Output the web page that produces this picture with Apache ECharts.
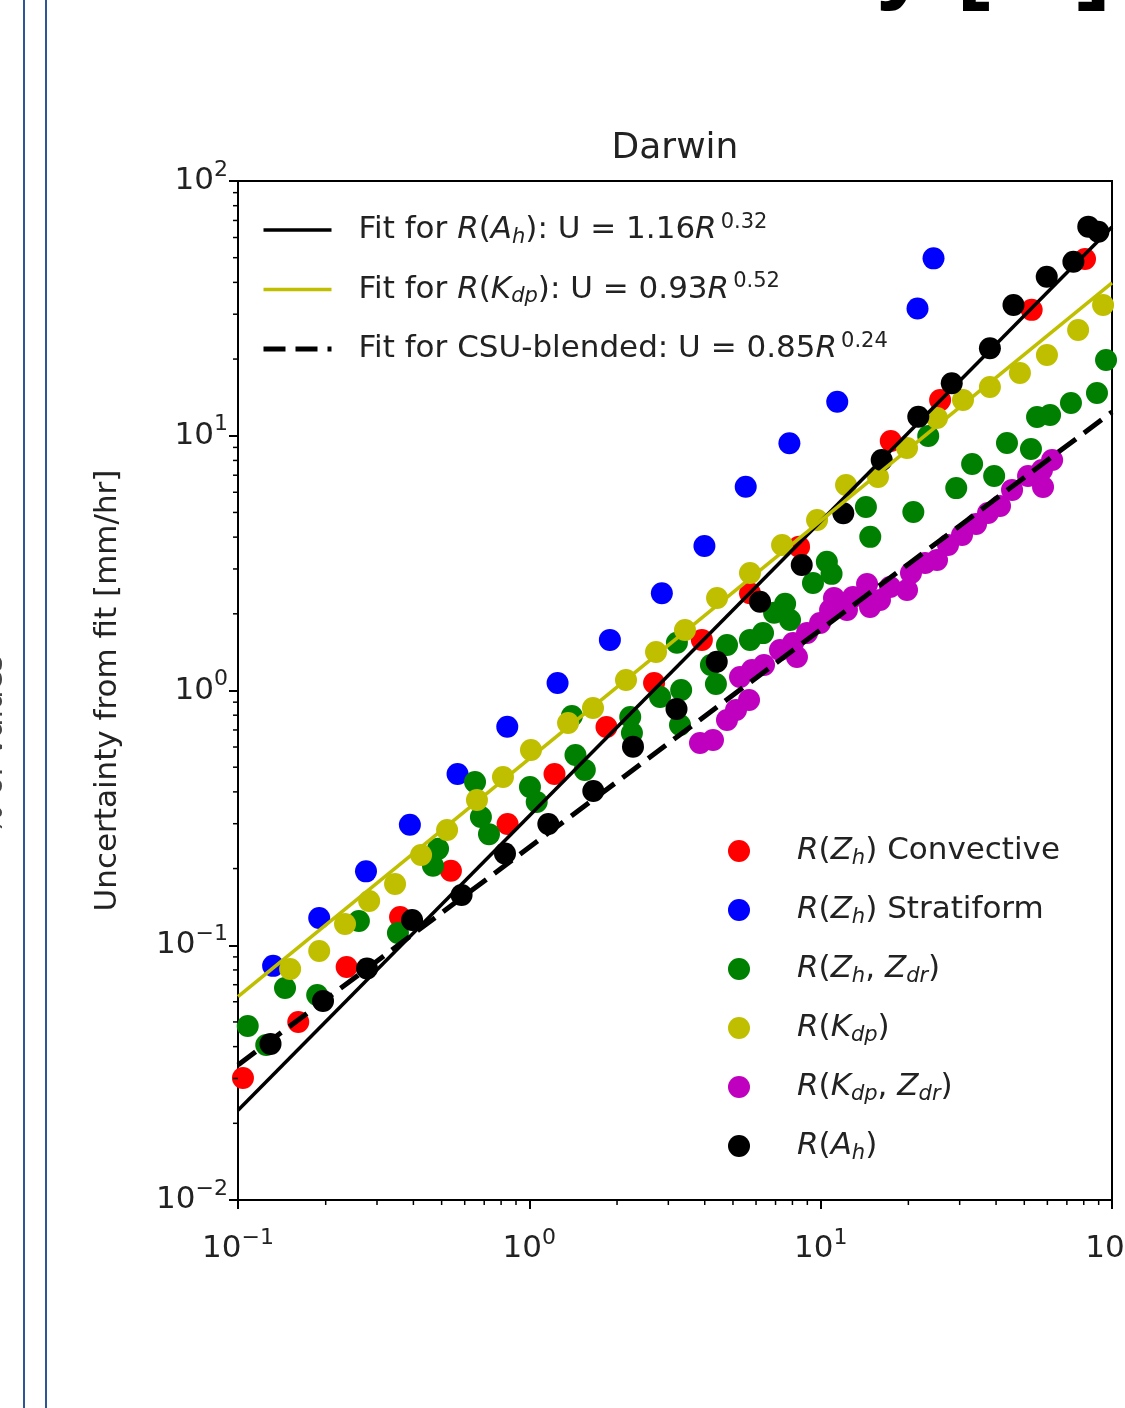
<!DOCTYPE html>
<html>
<head>
<meta charset="utf-8">
<script src="https://cdn.jsdelivr.net/npm/echarts@6/dist/echarts.min.js"></script>
<style>html,body{margin:0;padding:0;background:#fff}#c{width:1125px;height:1408px}</style>
</head>
<body>
<div id="c"></div>
<script>
// ---------------- data ----------------
const convectiveX = [0.104,0.161,0.236,0.360,0.538,0.842,1.22,1.84,2.68,3.91,5.72,8.43,17.4,25.7,53.0,80.8];
const convectiveY = [0.0301,0.0500,0.0822,0.129,0.196,0.299,0.470,0.719,1.07,1.58,2.41,3.67,9.54,13.8,31.2,49.4];

const stratiformX = [0.132,0.190,0.275,0.389,0.567,0.840,1.25,1.89,2.85,3.99,5.53,7.81,11.4,21.5,24.4];
const stratiformY = [0.083,0.128,0.195,0.297,0.470,0.721,1.07,1.58,2.41,3.69,6.31,9.34,13.6,31.6,49.7];

const zhzdrX = [0.108,0.125,0.145,0.187,0.260,0.354,0.467,0.486,0.651,0.682,0.727,1.005,1.06,1.40,1.44,1.55,2.22,2.25,2.81,3.21,3.32,3.29,4.20,4.37,4.77,5.72,6.34,6.92,7.55,7.85,9.41,10.5,10.9,14.3,14.8,20.8,23.4,29.2,33.1,39.4,43.6,52.7,55.3,61.3,72.3,88.8,95.4];
const zhzdrY = [0.0482,0.0406,0.0680,0.0638,0.1245,0.1117,0.205,0.239,0.437,0.319,0.273,0.418,0.365,0.794,0.558,0.488,0.787,0.681,0.943,1.54,1.005,0.732,1.26,1.06,1.51,1.58,1.68,2.02,2.19,1.89,2.64,3.20,2.87,5.25,4.01,5.02,9.98,6.23,7.75,6.95,9.37,8.87,11.85,12.06,13.45,14.72,19.84];

const kdpX = [0.151,0.190,0.233,0.282,0.346,0.425,0.522,0.661,0.812,1.013,1.358,1.654,2.147,2.722,3.422,4.409,5.72,7.37,9.72,12.22,15.73,19.79,25.08,30.8,38.1,48.3,59.8,76.5,93.2];
const kdpY = [0.0807,0.0949,0.1212,0.1492,0.1739,0.2261,0.2834,0.3716,0.4576,0.5842,0.7454,0.8538,1.099,1.416,1.728,2.307,2.892,3.726,4.67,6.41,6.89,8.95,11.74,13.81,15.54,17.63,20.75,26.0,32.6];

const kdpzdrX = [3.853,4.270,4.769,5.122,5.677,5.287,5.812,6.39,7.25,8.04,8.29,8.98,9.95,10.77,11.11,12.31,12.91,14.43,14.77,15.98,17.31,19.79,20.42,22.82,25.08,27.36,30.56,34.15,37.54,41.27,45.39,51.5,57.5,62.3,57.98];
const kdpzdrY = [0.6222,0.6394,0.7662,0.8385,0.9178,1.130,1.204,1.259,1.442,1.536,1.353,1.682,1.841,2.070,2.307,2.070,2.328,2.618,2.127,2.266,2.548,2.480,2.892,3.166,3.253,3.726,4.077,4.503,4.975,5.30,6.13,6.95,7.34,8.03,6.29];

const ahX = [0.1293,0.1958,0.2772,0.3958,0.5853,0.8250,1.162,1.658,2.269,3.200,4.398,6.19,8.61,11.96,16.20,21.63,28.18,38.1,45.9,59.7,73.7,82.9,89.8];
const ahY = [0.0410,0.0604,0.0811,0.1257,0.1575,0.2292,0.2992,0.4032,0.6020,0.8462,1.297,2.231,3.109,4.96,8.03,11.88,16.06,22.04,32.6,42.1,48.2,66.2,63.2];

// fitted lines (end points read at the plot edges)
const fitAhX = [0.1, 100];   const fitAhY = [0.0225, 66];
const fitKdpX = [0.1, 100];  const fitKdpY = [0.0628, 39.8];
const fitCsuX = [0.1, 100];  const fitCsuY = [0.0339, 12.4];

// axis ticks
const minorX = [0.2,0.3,0.4,0.5,0.6,0.7,0.8,0.9,2,3,4,5,6,7,8,9,20,30,40,50,60,70,80,90];
const minorY = [0.02,0.03,0.04,0.05,0.06,0.07,0.08,0.09,0.2,0.3,0.4,0.5,0.6,0.7,0.8,0.9,2,3,4,5,6,7,8,9,20,30,40,50,60,70,80,90];

const scatterNames = ['R(Zh) Convective','R(Zh) Stratiform','R(Zh, Zdr)','R(Kdp)','R(Kdp, Zdr)','R(Ah)'];
const fitNames = ['Fit for R(Ah): U = 1.16R^0.32','Fit for R(Kdp): U = 0.93R^0.52','Fit for CSU-blended: U = 0.85R^0.24'];
const titleText = 'Darwin';
const yName = 'Uncertainty from fit [mm/hr]';

// ---------------- rendering ----------------
const FONT = 'DejaVu Sans';
const TXT = '#222';
const zip = (xs, ys) => xs.map((x, i) => [x, ys[i]]);

const richLabel = {
  [fitNames[0]]: 'Fit for {i|R}({i|A}{sub|h}): U = 1.16{i|R}{sup|0.32}',
  [fitNames[1]]: 'Fit for {i|R}({i|K}{sub|dp}): U = 0.93{i|R}{sup|0.52}',
  [fitNames[2]]: 'Fit for CSU-blended: U = 0.85{i|R}{sup|0.24}',
  [scatterNames[0]]: '{i|R}({i|Z}{sub|h}) Convective',
  [scatterNames[1]]: '{i|R}({i|Z}{sub|h}) Stratiform',
  [scatterNames[2]]: '{i|R}({i|Z}{sub|h}, {i|Z}{sub|dr})',
  [scatterNames[3]]: '{i|R}({i|K}{sub|dp})',
  [scatterNames[4]]: '{i|R}({i|K}{sub|dp}, {i|Z}{sub|dr})',
  [scatterNames[5]]: '{i|R}({i|A}{sub|h})'
};
const legendRich = {
  i:   {fontFamily: FONT, fontStyle: 'italic', fontSize: 31, lineHeight: 36, color: TXT},
  sub: {fontFamily: FONT, fontStyle: 'italic', fontSize: 21, lineHeight: 14, verticalAlign: 'bottom', color: TXT},
  sup: {fontFamily: FONT, fontSize: 21, lineHeight: 18, verticalAlign: 'top', color: TXT, padding: [0, 0, 0, 4]}
};
const tickRich = {
  b: {fontFamily: FONT, fontSize: 31, lineHeight: 44, color: TXT},
  s: {fontFamily: FONT, fontSize: 22, lineHeight: 16, verticalAlign: 'top', color: TXT}
};
const tickFmt = v => {
  const e = Math.round(Math.log10(v));
  return '{b|10}{s|' + (e < 0 ? '\u2212' + (-e) : String(e)) + '}';
};

const chart = echarts.init(document.getElementById('c'), null, {renderer: 'canvas', width: 1125, height: 1408});

const scatterColors = ['#ff0000', '#0000ff', '#008000', '#bfbf00', '#bf00bf', '#000000'];
const scatterData = [
  zip(convectiveX, convectiveY), zip(stratiformX, stratiformY), zip(zhzdrX, zhzdrY),
  zip(kdpX, kdpY), zip(kdpzdrX, kdpzdrY), zip(ahX, ahY)
];

const series = scatterNames.map((n, k) => ({
  type: 'scatter', name: n, data: scatterData[k], symbol: 'circle', symbolSize: 22,
  itemStyle: {color: scatterColors[k], opacity: 1}, z: 2 + k * 0.01, silent: true
}));
series.push(
  {type: 'line', name: fitNames[0], data: zip(fitAhX, fitAhY), symbol: 'none', silent: true,
   lineStyle: {color: '#000', width: 3.5}, itemStyle: {color: '#000'}, z: 4},
  {type: 'line', name: fitNames[1], data: zip(fitKdpX, fitKdpY), symbol: 'none', silent: true,
   lineStyle: {color: '#bfbf00', width: 3.5}, itemStyle: {color: '#bfbf00'}, z: 4},
  {type: 'line', name: fitNames[2], data: zip(fitCsuX, fitCsuY), symbol: 'none', silent: true,
   lineStyle: {color: '#000', width: 5, type: [22, 10]}, itemStyle: {color: '#000'}, z: 4},
  {type: 'custom', silent: true, z: 6, data: minorX.map(v => [v, 0.01]),
   renderItem: (p, api) => {
     const pt = api.coord([api.value(0), api.value(1)]);
     return {type: 'line', shape: {x1: pt[0], y1: pt[1], x2: pt[0], y2: pt[1] + 5}, style: {stroke: '#000', lineWidth: 1.5}};
   }},
  {type: 'custom', silent: true, z: 6, data: minorY.map(v => [0.1, v]),
   renderItem: (p, api) => {
     const pt = api.coord([api.value(0), api.value(1)]);
     return {type: 'line', shape: {x1: pt[0] - 5, y1: pt[1], x2: pt[0], y2: pt[1]}, style: {stroke: '#000', lineWidth: 1.5}};
   }}
);

const option = {
  animation: false,
  backgroundColor: '#fff',
  title: {
    text: titleText, left: 670, top: 124, textAlign: 'center',
    textStyle: {fontFamily: FONT, fontSize: 36, fontWeight: 'normal', color: TXT, lineHeight: 40}
  },
  grid: {left: 238, right: 13, top: 181, bottom: 208, containLabel: false, outerBoundsMode: 'none',
         show: true, borderColor: '#000', borderWidth: 2, backgroundColor: 'transparent'},
  xAxis: {
    type: 'log', logBase: 10, min: 0.1, max: 100,
    axisLine: {show: true, lineStyle: {color: '#000', width: 2}},
    axisTick: {show: true, inside: false, length: 9, lineStyle: {color: '#000', width: 2}},
    minorTick: {show: false}, splitLine: {show: false}, minorSplitLine: {show: false},
    axisLabel: {margin: 27, formatter: tickFmt, rich: tickRich, color: TXT, showMinLabel: true, showMaxLabel: true}
  },
  yAxis: {
    type: 'log', logBase: 10, min: 0.01, max: 100,
    name: yName, nameLocation: 'middle', nameGap: 115,
    nameTextStyle: {fontFamily: FONT, fontSize: 31, color: TXT},
    axisLine: {show: true, lineStyle: {color: '#000', width: 2}},
    axisTick: {show: true, inside: false, length: 9, lineStyle: {color: '#000', width: 2}},
    minorTick: {show: false}, splitLine: {show: false}, minorSplitLine: {show: false},
    axisLabel: {margin: 10, formatter: tickFmt, rich: tickRich, color: TXT, showMinLabel: true, showMaxLabel: true}
  },
  legend: [
    {
      data: fitNames, orient: 'vertical', left: 256, top: 207, itemWidth: 68, itemHeight: 14, itemGap: 23.5,
      selectedMode: false, itemStyle: {opacity: 0, borderWidth: 0}, lineStyle: {width: 'inherit', type: 'inherit'},
      formatter: n => richLabel[n],
      textStyle: {fontFamily: FONT, fontSize: 31, lineHeight: 36, color: TXT, padding: [0, 0, 0, 22], rich: legendRich}
    },
    {
      data: scatterNames, orient: 'vertical', left: 723, top: 828, itemWidth: 22, itemHeight: 22, itemGap: 23,
      selectedMode: false, icon: 'circle',
      formatter: n => richLabel[n],
      textStyle: {fontFamily: FONT, fontSize: 31, lineHeight: 36, color: TXT, padding: [0, 0, 0, 42], rich: legendRich}
    }
  ],
  graphic: [
    {type: 'line', shape: {x1: 24, y1: 0, x2: 24, y2: 1408}, style: {stroke: '#2f5597', lineWidth: 2}},
    {type: 'line', shape: {x1: 46, y1: 0, x2: 46, y2: 1408}, style: {stroke: '#2f5597', lineWidth: 2}},
    {type: 'text', x: -6, y: 745, rotation: Math.PI / 2,
     style: {text: '% of values', fontFamily: FONT, fontSize: 31, fill: '#444', align: 'center', verticalAlign: 'middle'}},
    {type: 'text', x: 1110, y: -36,
     style: {text: 'y [%]', fontFamily: 'Liberation Sans', fontWeight: 'bold', fontSize: 98, fill: '#000', align: 'right', verticalAlign: 'middle'}}
  ],
  series: series
};
chart.setOption(option);
</script>
</body>
</html>
